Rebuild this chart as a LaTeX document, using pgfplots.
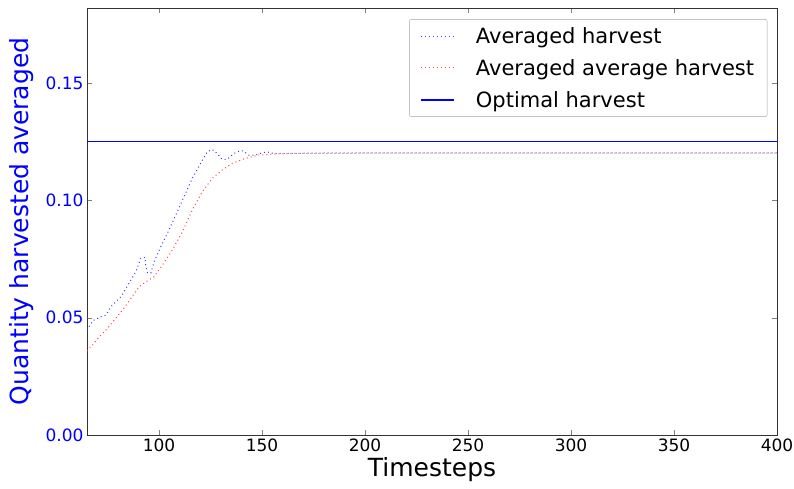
\documentclass[border=0pt]{standalone}
\usepackage{pgfplots}
\pgfplotsset{compat=1.18}
\usepackage{fontspec}
\setmainfont{DejaVu Sans}
\definecolor{mblue}{RGB}{0,0,255}
\definecolor{dblue}{RGB}{60,60,255}
\definecolor{dred}{RGB}{255,70,70}
\pgfplotsset{
    mylegend/.style={legend image code/.code={\draw[##1] (0pt,0pt) -- (33pt,0pt);}},
}
\begin{document}
\begin{tikzpicture}
\begin{axis}[
    width=690pt, height=427pt, scale only axis,
    xmin=65, xmax=400, ymin=0, ymax=0.182,
    xtick={100,150,200,250,300,350,400},
    ytick={0,0.05,0.10,0.15},
    scaled y ticks=false,
    yticklabel style={/pgf/number format/.cd, fixed, fixed zerofill, precision=2, /tikz/.cd, text=mblue},
    /pgf/number format/assume math mode=true,
    tick label style={font=\fontsize{17}{20}\selectfont},
    tick align=inside,
    major tick length=5pt,
    axis line style={black!80},
    xlabel={Timesteps},
    ylabel={Quantity harvested averaged},
    every axis x label/.style={at={(rel axis cs:0.5,0)}, anchor=center, yshift=-35pt,
        font=\fontsize{25}{30}\selectfont},
    every axis y label/.style={at={(rel axis cs:0,0.5)}, anchor=center, rotate=90, yshift=65pt,
        font=\fontsize{25}{30}\selectfont, text=mblue},
    legend style={at={(rel axis cs:0.986,0.974)}, anchor=north east,
        draw=gray!70, rounded corners=2pt, font=\fontsize{21}{25}\selectfont,
        row sep=10.5pt, column sep=19pt, inner xsep=11pt, inner ysep=6pt, cells={anchor=west}},
]

% optimal harvest (solid blue), drawn first
\addplot[forget plot, solid, draw=mblue, line width=1.5pt] table {
x y
65 0.125
150 0.125
250 0.125
350 0.125
400 0.125
};

% averaged harvest (blue dotted)
\addplot[color=dblue, mylegend, line width=1pt, dash pattern=on 1pt off 3pt] coordinates {
    (65,0.0447) (67.7,0.0487) (71.8,0.0504) (74.2,0.0511) (76.6,0.0547)
    (81.5,0.0589) (86.3,0.066) (88.7,0.0696) (91.1,0.0753) (93.2,0.0757)
    (93.6,0.0717) (94.4,0.0692) (96,0.069) (97.6,0.0739) (100.8,0.0802)
    (104,0.0859) (108.1,0.0937) (112.1,0.1016) (116.1,0.1094) (120.2,0.1158)
    (123.4,0.1207) (125.8,0.1217) (128.2,0.12) (130.6,0.1175) (133,0.1175)
    (136.3,0.12) (139.5,0.1212) (141,0.121) (143.5,0.1193) (146.7,0.1193)
    (149,0.12) (152.4,0.1207) (155.6,0.12) (161,0.12) (180,0.1202)
    (250,0.1202) (325,0.1202) (400,0.1202)
};
\addlegendentry{Averaged harvest}

% averaged average harvest (red dotted)
\addplot[color=dred, mylegend, line width=1pt, dash pattern=on 1pt off 3pt] coordinates {
    (65,0.0358) (67.7,0.0384) (71,0.0419) (75,0.0455) (78.2,0.049)
    (82.3,0.0533) (86.3,0.0582) (90.3,0.0632) (93.6,0.0653) (97.6,0.0675)
    (101.6,0.0724) (106.4,0.0788) (111.3,0.0866) (116.1,0.0959) (121,0.1037)
    (125.8,0.1094) (130.6,0.1129) (135.5,0.1158) (141.9,0.1179) (148.4,0.1193)
    (154.8,0.1197) (166,0.12) (200,0.1201) (300,0.1201) (400,0.1201)
};
\addlegendentry{Averaged average harvest}

\addlegendimage{mblue, solid, line width=1.5pt, mylegend}
\addlegendentry{Optimal harvest}

\end{axis}
\pgfresetboundingbox
\path (-87pt,-53pt) rectangle ++(794pt,488pt);
\end{tikzpicture}
\end{document}
